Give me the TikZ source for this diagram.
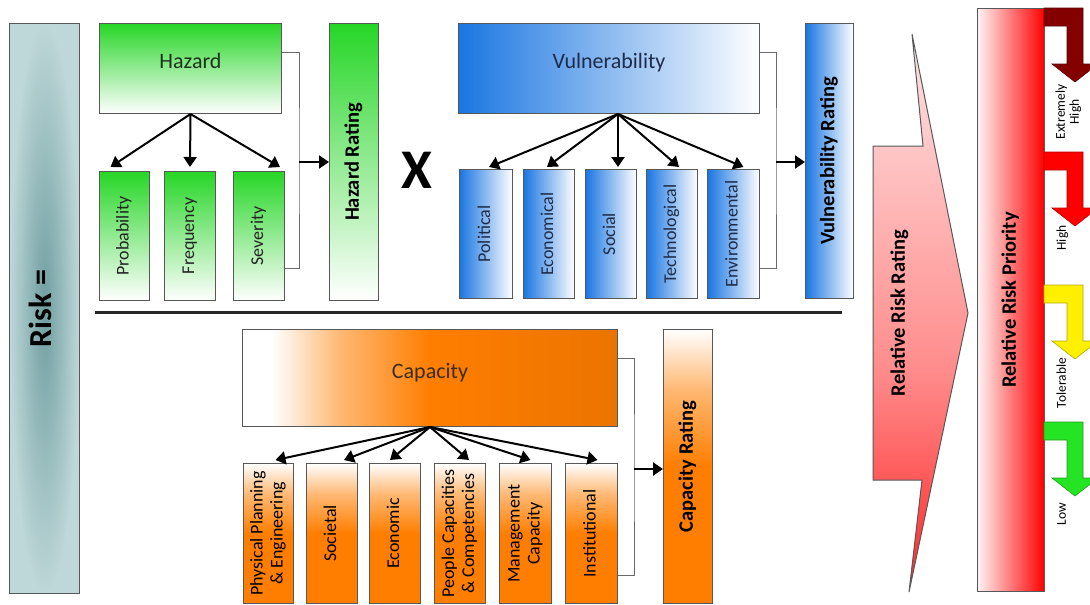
\documentclass[tikz,border=0pt]{standalone}
\usepackage{fontspec}
\setmainfont{Carlito}
\usepackage{graphicx}
\usepackage{tikz}
\usetikzlibrary{arrows.meta,calc}
\definecolor{hazgreen}{RGB}{38,214,38}
\definecolor{vulblue}{RGB}{26,118,226}
\definecolor{caporange}{RGB}{255,126,0}
\definecolor{risklight}{RGB}{190,215,216}
\definecolor{riskdark}{RGB}{112,158,160}
\definecolor{boxline}{RGB}{88,88,88}
\definecolor{busline}{RGB}{105,105,105}
\definecolor{txtdark}{RGB}{36,36,36}
\definecolor{hazttext}{RGB}{28,52,28}
\definecolor{vultext}{RGB}{30,44,74}
\definecolor{captext}{RGB}{60,44,28}
\definecolor{palered}{RGB}{252,228,228}
\definecolor{exhigh}{RGB}{132,0,0}
\definecolor{lowgreen}{RGB}{36,228,36}
\definecolor{tolyellow}{RGB}{255,240,0}
\pgfdeclarehorizontalshading{capshade}{100bp}{color(0bp)=(white); color(29bp)=(white); color(38bp)=(caporange!55); color(50bp)=(caporange); color(75bp)=(caporange!92!black); color(100bp)=(caporange!92!black)}
\pgfdeclareverticalshading{capdown}{100bp}{color(0bp)=(caporange); color(50bp)=(caporange); color(64bp)=(caporange!55); color(75bp)=(white); color(100bp)=(white)}
\pgfdeclareverticalshading{rrrshade}{100bp}{color(0bp)=(red!85); color(25bp)=(red!85); color(45bp)=(red!45); color(60bp)=(red!28); color(75bp)=(palered); color(100bp)=(palered)}
\newcommand{\rottext}[1]{\rotatebox{90}{\begin{tabular}{@{}c@{}}#1\end{tabular}}}

\begin{document}
\begin{tikzpicture}[x=1pt,y=-1pt,
	box/.style={draw=boxline,line width=1pt,inner sep=0pt,anchor=north west,text=txtdark},
	grn/.style={box,top color=hazgreen,bottom color=white},
	blu/.style={box,left color=vulblue,right color=white},
	orn/.style={box,shading=capdown},
	head/.style={font=\fontsize{22}{26}\selectfont,text height=11pt,text depth=11pt},
	sub/.style={font=\fontsize{18}{20}\selectfont},
	rating/.style={font=\fontsize{20.5}{24}\selectfont\bfseries,text=black},
	tree/.style={line width=2pt,-{Triangle[length=10pt,width=13pt]}},
	bus/.style={draw=busline,line width=1pt},
	feed/.style={line width=2pt,-{Triangle[length=10pt,width=13pt]}},
	tag/.style={font=\fontsize{13.5}{14}\selectfont,text=black,inner sep=0pt}]
	\useasboundingbox (0,0) rectangle (1090,605);
	\clip (0,0) rectangle (1090,605);
	\node[box,inner color=riskdark,outer color=risklight,minimum width=70pt,minimum height=570pt,font=\fontsize{32}{36}\selectfont\bfseries,text=black] (risk) at (9,23) {\rottext{Risk =}};
	\node[grn,head,text=hazttext,minimum width=182pt,minimum height=90pt] (hazard) at (99,23) {Hazard};
	\node[grn,sub,minimum width=50pt,minimum height=129pt] (prob) at (99,171) {\rottext{Probability}};
	\node[grn,sub,minimum width=51pt,minimum height=129pt] (freq) at (164,171) {\rottext{Frequency}};
	\node[grn,sub,minimum width=51pt,minimum height=129pt] (sev) at (233,171) {\rottext{Severity}};
	\node[grn,rating,minimum width=49pt,minimum height=277pt] (hazrate) at (329,23) {\rottext{Hazard Rating}};
	\node[font=\fontsize{56}{60}\selectfont\bfseries] (times) at (417,170) {X};
	\node[blu,head,text=vultext,minimum width=301pt,minimum height=90pt] (vuln) at (458,23) {Vulnerability};
	\node[blu,sub,text=vultext,minimum width=53pt,minimum height=129pt] (pol) at (459,169) {\rottext{Political}};
	\node[blu,sub,text=vultext,minimum width=51pt,minimum height=129pt] (econ) at (523,169) {\rottext{Economical}};
	\node[blu,sub,text=vultext,minimum width=51pt,minimum height=129pt] (soc) at (585,169) {\rottext{Social}};
	\node[blu,sub,text=vultext,minimum width=51pt,minimum height=129pt] (tech) at (646,169) {\rottext{Technological}};
	\node[blu,sub,text=vultext,minimum width=52pt,minimum height=129pt] (env) at (707,169) {\rottext{Environmental}};
	\node[blu,rating,minimum width=48pt,minimum height=275pt] (vulrate) at (805,23) {\rottext{Vulnerability Rating}};
	\draw[line width=3pt,black!85] (95,312) -- (842,312);
	\node[box,shading=capshade,head,text=captext,minimum width=375pt,minimum height=97pt] (cap) at (242,329) {Capacity};
	\node[orn,sub,text=black,minimum width=50pt,minimum height=140pt] (phys) at (243,463) {\rottext{Physical Planning\\ \& Engineering}};
	\node[orn,sub,text=black,minimum width=51pt,minimum height=140pt] (socl) at (306,463) {\rottext{Societal}};
	\node[orn,sub,text=black,minimum width=51pt,minimum height=140pt] (ecom) at (369,463) {\rottext{Economic}};
	\node[orn,sub,text=black,minimum width=51pt,minimum height=140pt] (people) at (434,463) {\rottext{People Capacities\\ \& Competencies}};
	\node[orn,sub,text=black,minimum width=52pt,minimum height=140pt] (mgmt) at (499,463) {\rottext{Management\\ Capacity}};
	\node[orn,sub,text=black,minimum width=52pt,minimum height=140pt] (inst) at (565,463) {\rottext{Institutional}};
	\node[orn,rating,minimum width=49pt,minimum height=274pt] (caprate) at (663,329) {\rottext{Capacity Rating}};
	\draw[tree] (hazard.south) -- ([xshift=-14pt,yshift=4pt]prob.north);
	\draw[tree] (hazard.south) -- ([yshift=4pt]freq.north);
	\draw[tree] (hazard.south) -- ([xshift=21pt,yshift=4pt]sev.north);
	\coordinate (hbus) at (299,162);
	\draw[bus] ([yshift=16pt]hazard.east) -| (hbus) |- ([yshift=-32pt]sev.east);
	\draw[feed] (hbus) -- (hbus -| hazrate.west);
	\draw[tree] ([xshift=9pt]vuln.south) -- ([xshift=3pt,yshift=2pt]pol.north);
	\draw[tree] ([xshift=9pt]vuln.south) -- ([xshift=-2pt,yshift=2pt]econ.north);
	\draw[tree] ([xshift=9pt]vuln.south) -- ([xshift=7pt,yshift=2pt]soc.north);
	\draw[tree] ([xshift=9pt]vuln.south) -- ([xshift=7pt,yshift=2pt]tech.north);
	\draw[tree] ([xshift=9pt]vuln.south) -- ([xshift=10pt,yshift=2pt]env.north);
	\coordinate (vbus) at (776,162);
	\draw[bus] ([yshift=16pt]vuln.east) -| (vbus) |- ([yshift=-34pt]env.east);
	\draw[feed] (vbus) -- (vbus -| vulrate.west);
	\draw[tree] (cap.south) -- ([xshift=7pt,yshift=3pt]phys.north);
	\draw[tree] (cap.south) -- ([xshift=12pt,yshift=3pt]socl.north);
	\draw[tree] (cap.south) -- ([xshift=-5pt,yshift=3pt]ecom.north);
	\draw[tree] (cap.south) -- ([xshift=9pt,yshift=3pt]people.north);
	\draw[tree] (cap.south) -- ([xshift=5pt,yshift=3pt]mgmt.north);
	\draw[tree] (cap.south) -- ([xshift=6pt,yshift=3pt]inst.north);
	\coordinate (cbus) at (634,469);
	\draw[bus] ([yshift=20pt]cap.east) -| (cbus) |- ([yshift=-42pt]inst.east);
	\draw[feed] (cbus) -- (cbus -| caprate.west);
	\draw[draw=boxline,line width=1pt,shading=rrrshade] (873,146) -- (923,146) -- (912,34) -- (968,313) -- (909,592) -- (922,480) -- (873,480) -- cycle;
	\node[rating] (rrr) at (900,313) {\rottext{Relative Risk Rating}};
	\node[box,left color=red!5,right color=red,rating,minimum width=67pt,minimum height=583pt] (rrp) at (977,8) {\rottext{Relative Risk Priority}};
	\foreach \y/\c in {8/exhigh,152/red,285/tolyellow,422/lowgreen}
		\draw[fill=\c,draw=\c!70!black,line width=0.6pt] (1044,\y) -- (1083,\y) -- (1083,\y+56) -- (1098,\y+56) -- (1075,\y+74) -- (1052,\y+56) -- (1067,\y+56) -- (1067,\y+18) -- (1044,\y+18) -- cycle;
	\node[tag] (exlbl) at (1069,112) {\rottext{Extremely\\High}};
	\node[tag] (hilbl) at (1063,238) {\rottext{High}};
	\node[tag] (tollbl) at (1063,383) {\rottext{Tolerable}};
	\node[tag] (lowlbl) at (1063,514) {\rottext{Low}};
\end{tikzpicture}
\end{document}
